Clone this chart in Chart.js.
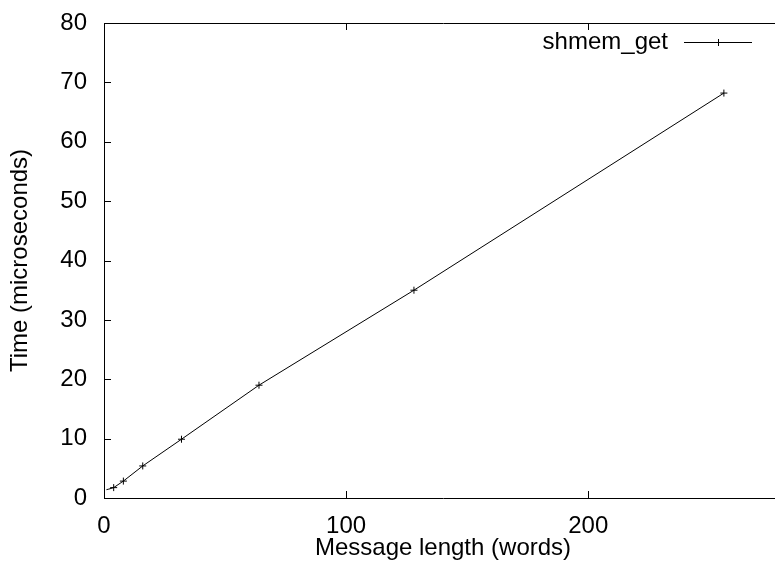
<!DOCTYPE html>
<html>
<head>
<meta charset="utf-8">
<script src="https://cdn.jsdelivr.net/npm/chart.js@4.4.0/dist/chart.umd.min.js"></script>
<style>
  html, body { margin: 0; padding: 0; background: #fff; overflow: hidden; }
  #wrap { width: 790px; height: 567px; }
</style>
</head>
<body>
<div id="wrap"><canvas id="grafica" width="790" height="567"></canvas></div>
<script>
// Datos
const longitudes = [1, 2, 4, 8, 16, 32, 64, 128, 256];
const tiempos = [1.4, 1.5, 1.75, 2.85, 5.4, 9.9, 19.0, 35.0, 68.2];
const ticksX = [0, 100, 200];
const ticksY = [0, 10, 20, 30, 40, 50, 60, 70, 80];
const nombreSerie = 'shmem_get';

Chart.defaults.font.family = "'Liberation Sans', Arial, sans-serif";
Chart.defaults.font.size = 24;
Chart.defaults.color = '#000';

// Marco y marcas de eje hacia dentro, estilo gnuplot
const marcoPlugin = {
    id: 'marco',
    afterDatasetsDraw(chart) {
        const {ctx, chartArea: a, scales} = chart;
        const L = 7;
        ctx.save();
        ctx.strokeStyle = '#000';
        ctx.lineWidth = 1;
        ctx.beginPath();
        ctx.rect(Math.round(a.left) + 0.5, Math.round(a.top) + 0.5,
                 Math.round(a.right - a.left), Math.round(a.bottom - a.top));
        ticksX.forEach(v => {
            const x = Math.round(scales.x.getPixelForValue(v)) + 0.5;
            ctx.moveTo(x, a.bottom); ctx.lineTo(x, a.bottom - L);
            ctx.moveTo(x, a.top); ctx.lineTo(x, a.top + L);
        });
        ticksY.forEach(v => {
            const y = Math.round(scales.y.getPixelForValue(v)) + 0.5;
            ctx.moveTo(a.left, y); ctx.lineTo(a.left + L, y);
            ctx.moveTo(a.right, y); ctx.lineTo(a.right - L, y);
        });
        ctx.stroke();

        // Leyenda: texto alineado a la derecha y muestra de línea
        const ly = 42;
        ctx.font = "24px 'Liberation Sans', Arial, sans-serif";
        ctx.fillStyle = '#000';
        ctx.textAlign = 'right';
        ctx.textBaseline = 'middle';
        ctx.fillText(nombreSerie, 668, ly);
        ctx.beginPath();
        ctx.moveTo(684, ly + 0.5); ctx.lineTo(752, ly + 0.5);
        ctx.moveTo(718.5, ly - 3); ctx.lineTo(718.5, ly + 4);
        ctx.moveTo(715, ly + 0.5); ctx.lineTo(722, ly + 0.5);
        ctx.stroke();
        ctx.restore();
    }
};

const datos = {
    datasets: [{
        label: nombreSerie,
        data: longitudes.map((x, i) => ({x: x, y: tiempos[i]})),
        showLine: true,
        borderColor: '#000',
        backgroundColor: '#000',
        borderWidth: 1,
        pointStyle: 'cross',
        // los primeros puntos no muestran marcador visible junto al eje
        pointRadius: ctx => (ctx.raw && ctx.raw.x < 3 ? 0 : 3.5),
        pointBorderWidth: 1,
        pointBorderColor: '#000',
        tension: 0
    }]
};

const opciones = {
    responsive: false,
    animation: false,
    layout: { padding: { top: 23, right: 8, left: 0, bottom: 0 } },
    plugins: {
        legend: { display: false },
        tooltip: { enabled: false }
    },
    scales: {
        x: {
            type: 'linear',
            min: 0,
            max: 280,
            afterBuildTicks: s => { s.ticks = ticksX.map(v => ({value: v})); },
            afterFit: s => {
                s.height = 69;
                s.paddingLeft = 0; s.paddingRight = 0;
            },
            grid: { display: false, drawTicks: false },
            border: { display: false },
            ticks: { padding: 14, maxRotation: 0 },
            title: {
                display: true,
                text: 'Message length (words)',
                padding: { top: 0, bottom: 4 }
            }
        },
        y: {
            type: 'linear',
            min: 0,
            max: 80,
            afterBuildTicks: s => { s.ticks = ticksY.map(v => ({value: v})); },
            afterFit: s => {
                s.width = 104;
                s.paddingTop = 0; s.paddingBottom = 0;
            },
            grid: { display: false, drawTicks: false },
            border: { display: false },
            ticks: { padding: 17 },
            title: {
                display: true,
                text: 'Time (microseconds)',
                padding: { top: 6, bottom: 0 }
            }
        }
    }
};

new Chart(document.getElementById('grafica').getContext('2d'), {
    type: 'scatter',
    data: datos,
    options: opciones,
    plugins: [marcoPlugin]
});
</script>
</body>
</html>
